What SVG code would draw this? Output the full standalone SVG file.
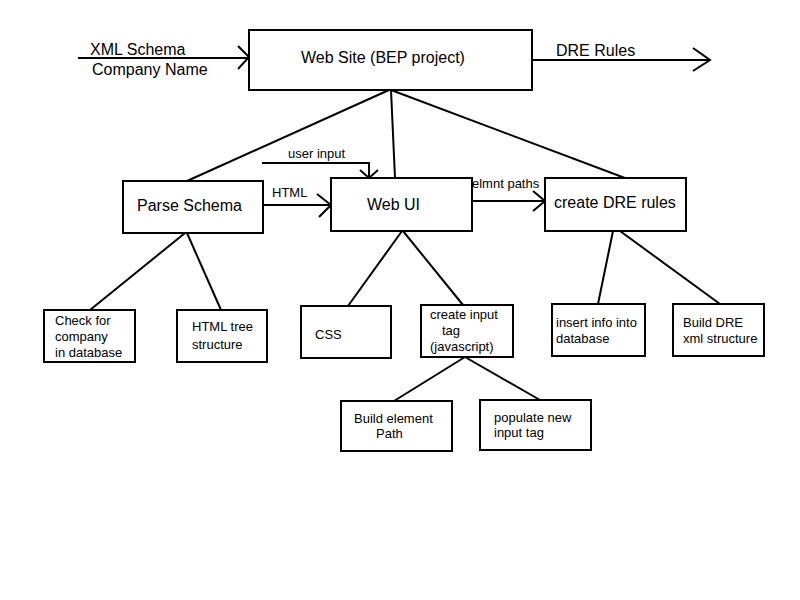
<svg xmlns="http://www.w3.org/2000/svg" width="800" height="600" viewBox="0 0 800 600">
  <style>
    .box { fill: #fff; stroke: #000; stroke-width: 2; }
    .ln { fill: none; stroke: #000; stroke-width: 2; }
    .t { font-family: "Liberation Sans", Arial, sans-serif; fill: #000; }
    .lg { font-size: 16px; }
    .md { font-size: 13px; }
  </style>
  <rect width="800" height="600" fill="#fff"/>

  <g id="connectors">
    <!-- inputs into the web site -->
    <path class="ln" d="M78 58 H249 M238 46 L249 57 L238 69"/>
    <!-- output rules -->
    <path class="ln" d="M532 60 H710 M693 48 L710 60 L693 71"/>
    <!-- site to its three parts -->
    <path class="ln" d="M389 90 L187 181"/>
    <path class="ln" d="M391 90 L395 178"/>
    <path class="ln" d="M391 90 L625 178"/>
    <!-- user input -->
    <path class="ln" d="M262 163 H369 V178 M360 170 L369 178 L378 170"/>
    <!-- HTML -->
    <path class="ln" d="M263 205 H331 M317 194 L331 205 L319 217"/>
    <!-- element paths -->
    <path class="ln" d="M472 201 H545 M533 191 L545 201 L533 211"/>
    <!-- Parse Schema children -->
    <path class="ln" d="M185 233 L90 310"/>
    <path class="ln" d="M187 233 L221 310"/>
    <!-- Web UI children -->
    <path class="ln" d="M402 231 L348 306"/>
    <path class="ln" d="M403 231 L463 305"/>
    <!-- create DRE rules children -->
    <path class="ln" d="M613 231 L598 304"/>
    <path class="ln" d="M620 231 L720 304"/>
    <!-- create input tag children -->
    <path class="ln" d="M465 357 L394 401"/>
    <path class="ln" d="M465 357 L540 400"/>
  </g>

  <g id="labels">
    <text class="t lg" x="90" y="55">XML Schema</text>
    <text class="t lg" x="92" y="75">Company Name</text>
    <text class="t lg" x="556" y="56">DRE Rules</text>
    <text class="t md" x="288" y="158">user input</text>
    <text class="t md" x="272" y="197">HTML</text>
    <text class="t md" x="472" y="188">elmnt paths</text>
  </g>

  <g id="web-site">
    <rect class="box" x="249" y="30" width="283" height="60"/>
    <text class="t lg" x="301" y="63">Web Site (BEP project)</text>
  </g>

  <g id="parse-schema">
    <rect class="box" x="123" y="181" width="140" height="52"/>
    <text class="t lg" x="137" y="211">Parse Schema</text>
  </g>

  <g id="web-ui">
    <rect class="box" x="331" y="178" width="141" height="53"/>
    <text class="t lg" x="367" y="210">Web UI</text>
  </g>

  <g id="create-dre-rules">
    <rect class="box" x="545" y="178" width="141" height="53"/>
    <text class="t lg" x="554" y="208">create DRE rules</text>
  </g>

  <g id="check-company">
    <rect class="box" x="44" y="310" width="91" height="52"/>
    <text class="t md" x="55" y="325">Check for</text>
    <text class="t md" x="55" y="341">company</text>
    <text class="t md" x="55" y="357">in database</text>
  </g>

  <g id="html-tree">
    <rect class="box" x="177" y="310" width="90" height="52"/>
    <text class="t md" x="192" y="331">HTML tree</text>
    <text class="t md" x="192" y="349">structure</text>
  </g>

  <g id="css">
    <rect class="box" x="301" y="306" width="90" height="52"/>
    <text class="t md" x="315" y="339">CSS</text>
  </g>

  <g id="create-input-tag">
    <rect class="box" x="421" y="305" width="92" height="52"/>
    <text class="t md" x="430" y="319">create input</text>
    <text class="t md" x="442" y="335">tag</text>
    <text class="t md" x="430" y="351">(javascript)</text>
  </g>

  <g id="insert-info">
    <rect class="box" x="552" y="304" width="93" height="52"/>
    <text class="t md" x="556" y="327">insert info into</text>
    <text class="t md" x="556" y="343">database</text>
  </g>

  <g id="build-dre-xml">
    <rect class="box" x="673" y="304" width="91" height="52"/>
    <text class="t md" x="683" y="327">Build DRE</text>
    <text class="t md" x="683" y="343">xml structure</text>
  </g>

  <g id="build-element-path">
    <rect class="box" x="341" y="401" width="111" height="50"/>
    <text class="t md" x="354" y="423">Build element</text>
    <text class="t md" x="376" y="438">Path</text>
  </g>

  <g id="populate-input-tag">
    <rect class="box" x="480" y="400" width="111" height="50"/>
    <text class="t md" x="494" y="422">populate new</text>
    <text class="t md" x="494" y="437">input tag</text>
  </g>
</svg>
